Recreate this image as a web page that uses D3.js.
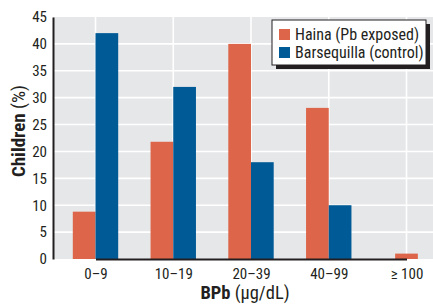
<!DOCTYPE html>
<html>
<head>
<meta charset="utf-8">
<script src="https://cdn.jsdelivr.net/npm/d3@7"></script>
<style>
  html, body { margin: 0; padding: 0; background: #fff; }
  svg { display: block; }
  text { font-family: "Liberation Sans Narrow", "Roboto Condensed", "Arial Narrow", "Liberation Sans", sans-serif; fill: #231f20; }
</style>
</head>
<body>
<div id="chart"></div>
<script>
const categories = ["0\u20139", "10\u201319", "20\u201339", "40\u201399", "\u2265 100"];
const seriesNames = ["Haina (Pb exposed)", "Barsequilla (control)"];
const hainaValues = [8.8, 21.8, 40, 28.1, 1];
const barsequillaValues = [42, 32, 18, 10, null];
const yTicks = [0, 5, 10, 15, 20, 25, 30, 35, 40, 45];
const seriesColors = ["#dd6549", "#005a96"];

const W = 433, H = 305;
const margin = { top: 17, right: 0, bottom: 46, left: 53 };
const iw = W - margin.left - margin.right;
const ih = H - margin.top - margin.bottom;

const svg = d3.select("#chart").append("svg").attr("width", W).attr("height", H);
const g = svg.append("g").attr("transform", `translate(${margin.left},${margin.top})`);

const y = d3.scaleLinear().domain([0, 45]).range([ih, 0]);
const x = d3.scalePoint().domain(categories).range([42.5, 353.5]);
const barW = 22.7;

// background
g.append("rect").attr("x", 0).attr("y", 0).attr("width", iw).attr("height", ih).attr("fill", "#e6e7e8");

// horizontal grid
g.selectAll(".hg").data(yTicks.filter(t => t > 0 && t < 45)).join("line")
  .attr("x1", 0).attr("x2", iw)
  .attr("y1", d => y(d)).attr("y2", d => y(d))
  .attr("stroke", "#fff").attr("stroke-width", 1.6);
// vertical grid
g.selectAll(".vg").data(categories).join("line")
  .attr("x1", d => x(d)).attr("x2", d => x(d))
  .attr("y1", 0).attr("y2", ih)
  .attr("stroke", "#fff").attr("stroke-width", 1.6);

// bars
const seriesData = [hainaValues, barsequillaValues];
categories.forEach((c, i) => {
  const present = seriesData.map((vals, s) => ({ s, v: vals[i] })).filter(d => d.v != null);
  const sub = d3.scaleBand().domain(present.map(d => d.s)).range([-barW * present.length / 2, barW * present.length / 2]);
  g.selectAll(null).data(present).join("rect")
    .attr("x", d => x(c) + sub(d.s))
    .attr("width", sub.bandwidth())
    .attr("y", d => y(d.v))
    .attr("height", d => y(0) - y(d.v))
    .attr("fill", d => seriesColors[d.s]);
});

// y axis
const yAxis = d3.axisLeft(y).tickValues(yTicks).tickSize(0).tickPadding(6);
const ya = g.append("g").call(yAxis);
ya.select(".domain").attr("stroke", "#231f20").attr("stroke-width", 2);
ya.selectAll("text").style("font-size", "15px").attr("fill", "#231f20");

// x axis
const xAxis = d3.axisBottom(x).tickSize(0).tickPadding(9);
const xa = g.append("g").attr("transform", `translate(0,${ih})`).call(xAxis);
xa.select(".domain").attr("stroke", "#231f20").attr("stroke-width", 2);
xa.selectAll("text").style("font-size", "15px").attr("fill", "#231f20");

// axis titles
const yt = svg.append("text")
  .attr("transform", `translate(25,131) rotate(-90)`)
  .attr("text-anchor", "middle")
  .style("font-size", "19px");
yt.append("tspan").style("font-weight", "bold").text("Children");
yt.append("tspan").text(" (%)");

const xt = svg.append("text")
  .attr("x", 245).attr("y", 299)
  .attr("text-anchor", "middle")
  .style("font-size", "18.5px");
xt.append("tspan").style("font-weight", "bold").text("BPb");
xt.append("tspan").text(" (\u00b5g/dL)");

// legend
const lg = svg.append("g").attr("transform", "translate(272,20)");
const lw = 154, lh = 45;
lg.append("rect").attr("x", 4).attr("y", 4).attr("width", lw).attr("height", lh).attr("fill", "#231f20");
lg.append("rect").attr("x", 0).attr("y", 0).attr("width", lw).attr("height", lh).attr("fill", "#fff").attr("stroke", "#231f20").attr("stroke-width", 1);
seriesNames.forEach((name, i) => {
  lg.append("rect").attr("x", 7).attr("y", 9 + i * 18).attr("width", 11).attr("height", 11).attr("fill", seriesColors[i]);
  lg.append("text").attr("x", 23).attr("y", 19.5 + i * 18).style("font-size", "16px").text(name);
});
</script>
</body>
</html>
